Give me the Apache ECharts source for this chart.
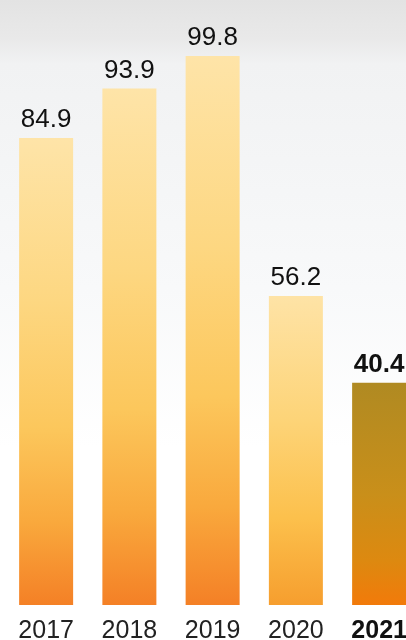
<!DOCTYPE html>
<html>
<head>
<meta charset="utf-8">
<script src="https://cdn.jsdelivr.net/npm/echarts@6/dist/echarts.min.js"></script>
<style>html,body{margin:0;padding:0;background:#fff}#c{width:406px;height:640px}</style>
</head>
<body>
<div id="c"></div>
<script>
const categories = ['2017', '2018', '2019', '2020', '2021'];
const values = [84.9, 93.9, 99.8, 56.2, 40.4];
const highlightIndex = 4;

const normalStops = [
  [0, '#fee4a8'], [0.35, '#fdd781'], [0.62, '#fcc75c'], [0.82, '#f9a93d'], [1, '#f48026']
];
const shortStops = [
  [0, '#fee3a6'], [0.4, '#fdd478'], [0.72, '#fcc04c'], [1, '#f69e2e']
];
const hiStops = [
  [0, '#b08a22'], [0.5, '#c98f1a'], [0.8, '#dd8910'], [1, '#f27a0a']
];

function grad(stops) {
  return new echarts.graphic.LinearGradient(0, 0, 0, 1,
    stops.map(s => ({ offset: s[0], color: s[1] })));
}

const chart = echarts.init(document.getElementById('c'), null, { renderer: 'canvas' });
const font = '"Liberation Sans", Arial, Helvetica, sans-serif';

chart.setOption({
  backgroundColor: new echarts.graphic.LinearGradient(0, 0, 0, 1, [
    { offset: 0, color: '#e3e3e3' },
    { offset: 0.06, color: '#e9e9e9' },
    { offset: 0.1, color: '#f1f2f3' },
    { offset: 0.45, color: '#f8f9fa' },
    { offset: 0.7, color: '#ffffff' },
    { offset: 1, color: '#ffffff' }
  ]),
  animation: false,
  grid: { left: 4.5, top: 55, right: -14.75, bottom: 35, containLabel: false, outerBoundsMode: 'none' },
  xAxis: {
    type: 'category',
    data: categories,
    axisLine: { show: false },
    axisTick: { show: false },
    axisLabel: {
      interval: 0,
      margin: 14,
      fontFamily: font,
      fontSize: 25,
      color: '#222',
      formatter: (v, i) => i === highlightIndex ? '{b|' + v + '}' : '{n|' + v + '}',
      rich: {
        n: { fontFamily: font, fontSize: 25, color: '#222' },
        b: { fontFamily: font, fontSize: 25, fontWeight: 'bold', color: '#111' }
      }
    }
  },
  yAxis: {
    type: 'value', min: 0, max: 100, show: false,
    splitLine: { show: false }
  },
  series: [{
    type: 'bar',
    barWidth: 54,
    data: values.map((v, i) => ({
      value: v,
      itemStyle: { color: grad(i === highlightIndex ? hiStops : (v < 70 ? shortStops : normalStops)) },
      label: i === highlightIndex ? { fontWeight: 'bold', color: '#111' } : {}
    })),
    label: {
      show: true,
      position: 'top',
      distance: 5,
      fontFamily: font,
      fontSize: 26,
      color: '#111',
      formatter: p => p.value.toFixed(1)
    }
  }]
});
</script>
</body>
</html>
